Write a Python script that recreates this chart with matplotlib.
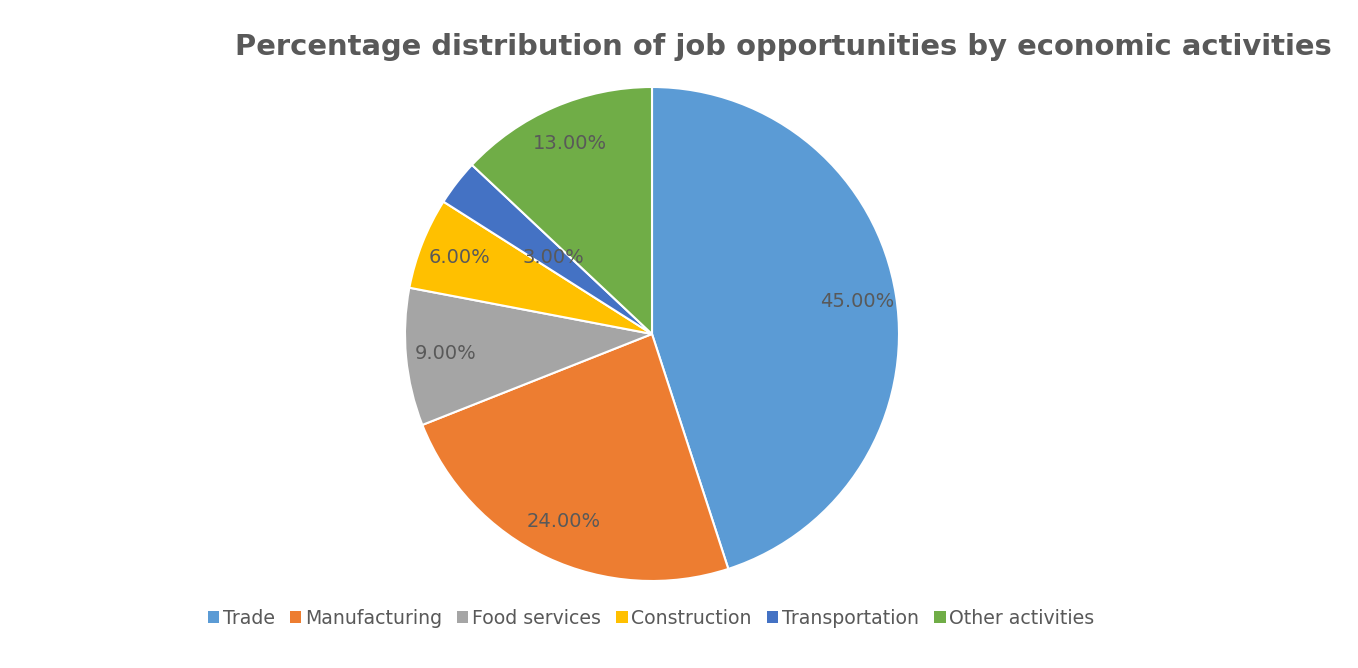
import matplotlib
matplotlib.use("Agg")
from matplotlib import pyplot as plt
from matplotlib.patches import Patch

plt.rcParams["font.family"] = ["DejaVu Sans"]

activities = ["Trade", "Manufacturing", "Food services", "Construction", "Transportation", "Other activities"]
shares = [45, 24, 9, 6, 3, 13]
colors = ["#5B9BD5", "#ED7D31", "#A5A5A5", "#FFC000", "#4472C4", "#70AD47"]
text_grey = "#595959"

fig = plt.figure(figsize=(13.58, 6.68), dpi=100)
ax = fig.add_axes([405 / 1358, 87 / 668, 494 / 1358, 494 / 668])

wedges, texts, autotexts = ax.pie(
    shares, colors=colors, startangle=90, counterclock=False,
    autopct="%.2f%%", pctdistance=0.84,
    wedgeprops=dict(edgecolor="white", linewidth=1.5),
    textprops=dict(color=text_grey, fontsize=14),
)
# the small slice label sits nearer the centre
x, y = autotexts[4].get_position()
autotexts[4].set_position((x * 0.6, y * 0.6))
ax.set_xlim(-1, 1)
ax.set_ylim(-1, 1)
ax.set_aspect("equal")

fig.text(783 / 1358, 1 - 47 / 668, "Percentage distribution of job opportunities by economic activities",
         ha="center", va="center", fontsize=20.9, fontweight="bold", color=text_grey)

handles = [Patch(facecolor=c, edgecolor="none") for c in colors]
fig.legend(handles, activities, loc="center", bbox_to_anchor=(651 / 1358, 1 - 618 / 668),
           ncol=6, frameon=False, fontsize=13.6, labelcolor=text_grey,
           handlelength=0.6, handleheight=0.6, handletextpad=0.2, columnspacing=0.8)

fig.savefig("out.png", dpi=100)
